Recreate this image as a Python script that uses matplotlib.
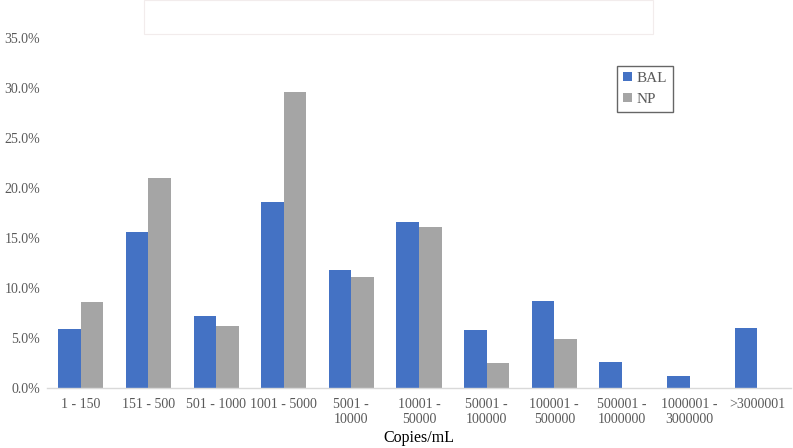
import matplotlib.pyplot as plt
import numpy as np
from matplotlib.patches import Rectangle
from matplotlib.ticker import FuncFormatter

categories = ['1 - 150', '151 - 500', '501 - 1000', '1001 - 5000', '5001 -\n10000',
              '10001 -\n50000', '50001 -\n100000', '100001 -\n500000', '500001 -\n1000000',
              '1000001 -\n3000000', '>3000001']
bal = [5.9, 15.6, 7.2, 18.6, 11.8, 16.6, 5.8, 8.7, 2.6, 1.2, 6.0]
np_vals = [8.6, 21.0, 6.2, 29.6, 11.1, 16.1, 2.5, 4.9, 0.0, 0.0, 0.0]

plt.rcParams['font.family'] = ['Liberation Serif', 'DejaVu Serif']
text_color = '#595959'

fig = plt.figure(figsize=(7.93, 4.48), dpi=100)
ax = fig.add_axes([47 / 793, 1 - 388 / 448, 744 / 793, 350 / 448])

x = np.arange(len(categories))
w = 0.333
ax.bar(x - w / 2, bal, w, color='#4472C4', label='BAL')
ax.bar(x + w / 2, np_vals, w, color='#A5A5A5', label='NP')

ax.set_xlim(-0.5, len(categories) - 0.5)
ax.set_ylim(0, 35)
ax.set_yticks(np.arange(0, 36, 5))
ax.yaxis.set_major_formatter(FuncFormatter(lambda v, p: f'{v:.1f}%'))
ax.set_xticks(x)
ax.set_xticklabels(categories, fontsize=10, color=text_color, linespacing=1.2)
ax.tick_params(axis='y', labelsize=10, labelcolor=text_color, length=0, pad=5)
ax.tick_params(axis='x', length=0, pad=7)

for s in ['top', 'right', 'left']:
    ax.spines[s].set_visible(False)
ax.spines['bottom'].set_color('#D9D9D9')
ax.spines['bottom'].set_linewidth(1)

ax.set_xlabel('Copies/mL', fontsize=11.5, color='black', labelpad=3)

leg = ax.legend(loc='upper left', bbox_to_anchor=((609 - 47) / 744, (388 - 58) / 350),
                fontsize=11, frameon=True, fancybox=False, handlelength=0.6,
                handleheight=0.6, handletextpad=0.3, borderpad=0.4, labelspacing=0.5)
leg.get_frame().set_edgecolor('#404040')
leg.get_frame().set_linewidth(1)
for t in leg.get_texts():
    t.set_color(text_color)

# faint empty title box at the top
fig.patches.append(Rectangle((144 / 793, 1 - 34 / 448), 509 / 793, 34 / 448,
                             transform=fig.transFigure, fill=False,
                             edgecolor='#F2ECEC', linewidth=0.8))

fig.savefig('out.png', dpi=100)
